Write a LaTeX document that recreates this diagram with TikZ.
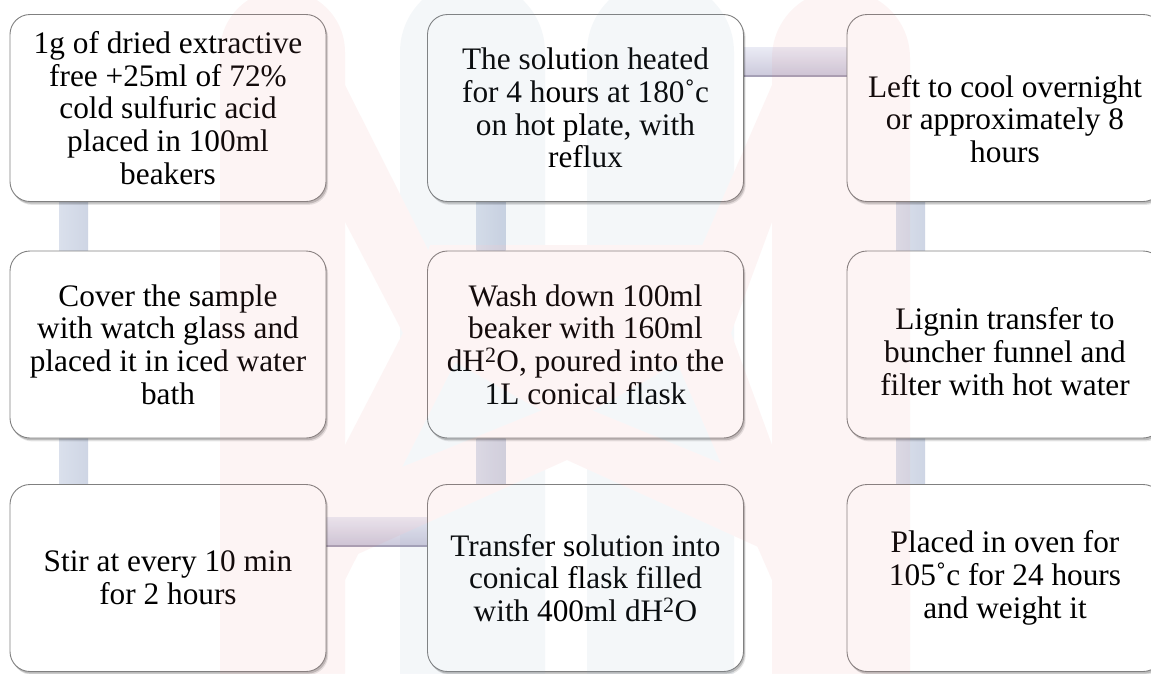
\documentclass[tikz,border=0pt]{standalone}
\usepackage{fontspec}
\setmainfont{Liberation Serif}
\usetikzlibrary{shadows}

\definecolor{linkvl}{RGB}{218,224,236}
\definecolor{linkvr}{RGB}{206,213,228}
\definecolor{linkht}{RGB}{234,235,245}
\definecolor{linkhb}{RGB}{204,201,219}
\definecolor{linkedge}{RGB}{165,160,182}
\definecolor{markpink}{RGB}{235,135,135}
\definecolor{markblue}{RGB}{135,168,195}

\pgfdeclarelayer{paper}
\pgfdeclarelayer{links}
\pgfdeclarelayer{mark}
\pgfsetlayers{paper,links,main,mark}

\begin{document}
\begin{tikzpicture}[x=1pt,y=-1pt,
  stepbox/.style={draw=black!50, line width=0.9pt, fill=white,
    rounded corners=20pt, minimum width=316pt, minimum height=187pt,
    inner sep=0pt, align=center,
    font=\fontsize{31.3}{32.8}\selectfont,
    general shadow={shadow xshift=2.2pt, shadow yshift=-3.4pt, draw=none,
      fill=black, opacity=0.10},
    general shadow={shadow xshift=1.3pt, shadow yshift=-2.2pt, draw=none,
      fill=black, opacity=0.18}},
  vlink/.style={left color=linkvl, right color=linkvr},
  hlink/.style={top color=linkht, bottom color=linkhb},
  hedge/.style={draw=linkedge, line width=1.2pt}]

\begin{pgfonlayer}{paper}
  \fill[white] (0,0) rectangle (1151,673);
\end{pgfonlayer}
\useasboundingbox (0,0) rectangle (1151,673);

% process steps, in snake order
\node[stepbox] (b1) at (168,108)   {1g of dried extractive\\free +25ml of 72\%\\cold sulfuric acid\\placed in 100ml\\beakers};
\node[stepbox] (b2) at (168,344.5) {Cover the sample\\with watch glass and\\placed it in iced water\\bath};
\node[stepbox] (b3) at (168,578)   {Stir at every 10 min\\for 2 hours};
\node[stepbox] (b4) at (585.5,578) {Transfer solution into\\conical flask filled\\with 400ml dH\textsuperscript{2}O};
\node[stepbox] (b5) at (585.5,344.5) {Wash down 100ml\\beaker with 160ml\\dH\textsuperscript{2}O, poured into the\\1L conical flask};
\node[stepbox] (b6) at (585.5,108) {The solution heated\\for 4 hours at 180˚c\\on hot plate, with\\reflux};
\node[stepbox] (b7) at (1005,108)  {\rule{0pt}{44pt}Left to cool overnight\\or approximately 8\\hours};
\node[stepbox] (b8) at (1005,344.5) {\rule{0pt}{36pt}Lignin transfer to\\buncher funnel and\\filter with hot water};
\node[stepbox] (b9) at (1005,578)  {Placed in oven for\\105˚c for 24 hours\\and weight it};

% connecting bars behind the boxes
\begin{pgfonlayer}{links}
  \shade[vlink] ([xshift=49.5pt]b1.south west) rectangle ([xshift=78.5pt]b2.north west);
  \shade[vlink] ([xshift=49.5pt]b2.south west) rectangle ([xshift=78.5pt]b3.north west);
  \shade[hlink] ([yshift=-33pt]b3.north east) rectangle ([yshift=-62pt]b4.north west);
  \draw[hedge] ([yshift=-62pt]b3.north east) -- ([yshift=-62pt]b4.north west);
  \shade[vlink] ([xshift=49.5pt]b4.north west) rectangle ([xshift=78.5pt]b5.south west);
  \shade[vlink] ([xshift=49.5pt]b5.north west) rectangle ([xshift=78.5pt]b6.south west);
  \shade[hlink] ([yshift=-33pt]b6.north east) rectangle ([yshift=-62pt]b7.north west);
  \draw[hedge] ([yshift=-62pt]b6.north east) -- ([yshift=-62pt]b7.north west);
  \shade[vlink] ([xshift=49.5pt]b7.south west) rectangle ([xshift=78.5pt]b8.north west);
  \shade[vlink] ([xshift=49.5pt]b8.south west) rectangle ([xshift=78.5pt]b9.north west);
\end{pgfonlayer}

% faint emblem laid over the whole page
\begin{pgfonlayer}{mark}
\begin{scope}[transparency group, opacity=0.085]
  \clip (0,0) rectangle (1151,673);
  \fill[markblue, rounded corners=72pt] (400,-20) rectangle (545,760);
  \fill[markblue, rounded corners=72pt] (587,-20) rectangle (734,760);
  \fill[markpink, rounded corners=62pt] (220,-10) rectangle (345,760);
  \fill[markpink, rounded corners=68pt] (772,-10) rectangle (910,760);
  \fill[markpink] (345,85) -- (470,333) -- (345,580) -- (345,445)
                  -- (403,333) -- (345,222) -- cycle;
  \fill[markpink] (772,85) -- (664,333) -- (772,580) -- (772,445)
                  -- (731,333) -- (772,222) -- cycle;
  \fill[markpink] (430,245) -- (704,245) -- (731,333) -- (567,425)
                  -- (403,333) -- cycle;
  \fill[markpink] (220,541) -- (567,400) -- (910,541) -- (910,616)
                  -- (567,460) -- (220,616) -- cycle;
\end{scope}
\end{pgfonlayer}
\end{tikzpicture}
\end{document}
